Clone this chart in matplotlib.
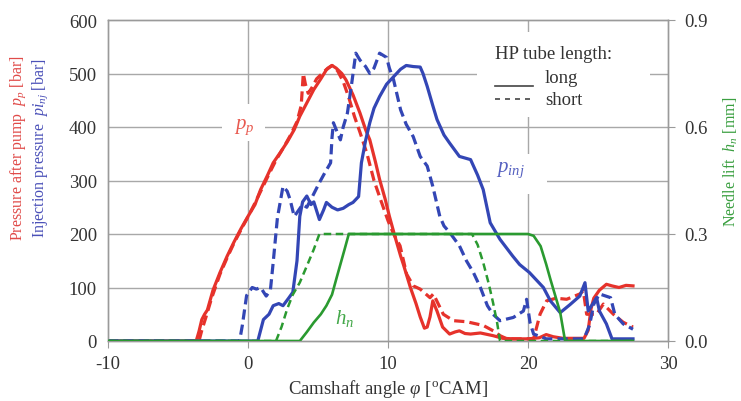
import matplotlib
matplotlib.use("Agg")
import matplotlib.pyplot as plt
from matplotlib.patches import Rectangle
from matplotlib.lines import Line2D

plt.rcParams['font.family'] = ['Liberation Serif', 'DejaVu Serif']
plt.rcParams['mathtext.fontset'] = 'custom'
plt.rcParams['mathtext.rm'] = 'Liberation Serif'
plt.rcParams['mathtext.it'] = 'Liberation Serif:italic'
plt.rcParams['mathtext.bf'] = 'Liberation Serif:bold'
plt.rcParams['axes.unicode_minus'] = False

# ---------------- data ----------------
pp_long_x = [-10, -3.7, -3.5, -3.3, -3.1, -2.9, -2.5, -2.0, -1.5, -1.0, -0.5, 0.0, 0.5, 0.9, 1.4,
             1.8, 2.3, 2.8, 3.3, 3.7, 4.2, 4.7, 5.2, 5.6, 6.0, 6.3, 6.7, 7.0, 7.5, 8.0, 8.4, 8.7,
             9.1, 9.4, 9.8, 10.1, 10.5, 10.9, 11.1, 11.6, 12.0, 12.3, 12.6, 12.8, 13.0, 13.2, 13.5,
             13.9, 14.4, 14.8, 15.1, 15.5, 15.9, 16.6, 17.5, 18.2, 19.0, 20.0, 20.8, 21.3, 21.8,
             22.5, 23.3, 24.0, 24.3, 24.5, 24.7, 25.1, 25.6, 26.0, 26.5, 27.0, 27.5]
pp_long_y = [0, 0, 18, 40, 50, 58, 95, 128, 158, 185, 210, 233, 255, 283, 310,
             333, 352, 372, 395, 420, 445, 470, 490, 507, 515, 510, 500, 488, 460, 426, 395, 376,
             335, 302, 265, 233, 195, 159, 143, 100, 70, 45, 24, 26, 45, 75, 56,
             26, 13, 17, 19, 14, 13, 15, 10, 5, 4, 4, 6, 12, 8,
             5, 5, 5, 20, 60, 80, 95, 106, 103, 100, 104, 103]

pp_short_x = [-10, -3.5, -3.3, -3.0, -2.6, -2.0, -1.5, -1.0, -0.5, 0.0, 0.5, 1.0, 1.5, 2.0, 2.5,
              3.0, 3.5, 3.8, 3.95, 4.1, 4.3, 4.6, 4.9, 5.3, 5.7, 6.0, 6.4, 6.8, 7.2, 7.6, 8.0,
              8.5, 9.0, 9.5, 10.0, 10.4, 10.86, 11.33, 11.81, 12.3, 13.0, 13.24, 13.95, 14.67,
              15.62, 16.81, 17.52, 18.0, 18.5, 20.4, 20.86, 21.33, 22.0, 22.76, 23.71, 23.95,
              24.19, 24.9, 25.38, 26.1, 26.8, 27.5]
pp_short_y = [0, 0, 20, 45, 80, 125, 155, 183, 208, 232, 258, 285, 312, 338, 360,
              383, 410, 440, 500, 480, 463, 475, 490, 500, 510, 515, 505, 485, 455, 420, 390,
              350, 300, 262, 225, 200, 178, 125, 103, 97, 81, 88, 50, 38,
              36, 29, 19, 10, 4, 4, 50, 75, 80, 78, 88, 94,
              50, 50, 69, 50, 35, 26]

pinj_long_x = [-10, 0.7, 0.9, 1.1, 1.5, 1.8, 2.2, 2.5, 2.9, 3.2, 3.5, 3.7, 3.9, 4.2, 4.5, 4.7,
               5.1, 5.4, 5.6, 6.0, 6.4, 6.8, 7.2, 7.5, 7.9, 8.1, 8.4, 8.7, 9.0, 9.4, 9.9, 10.4,
               10.9, 11.3, 11.8, 12.3, 12.5, 12.8, 13.2, 13.5, 14.0, 14.4, 15.1, 15.9, 16.4,
               16.8, 17.3, 18.0, 18.9, 19.4, 20.1, 21.1, 21.6, 22.3, 23.0, 23.7, 24.07, 24.3,
               24.9, 25.1, 25.6, 26.0, 27.5]
pinj_long_y = [0, 0, 20, 40, 50, 66, 70, 66, 80, 91, 150, 233, 260, 271, 255, 260,
               227, 245, 259, 250, 245, 248, 255, 259, 270, 333, 375, 408, 435, 457, 480, 494,
               508, 515, 513, 512, 500, 476, 440, 414, 385, 370, 345, 339, 310,
               283, 221, 190, 159, 143, 128, 100, 75, 53, 68, 84, 109, 56,
               81, 56, 32, 4, 4]

pinj_short_x = [-10, -0.6, -0.4, -0.1, 0.3, 0.6, 0.9, 1.3, 1.6, 1.8, 2.1, 2.5, 2.8, 3.0, 3.3,
                3.5, 3.9, 4.2, 4.6, 5.1, 5.5, 5.9, 6.0, 6.1, 6.3, 6.6, 6.8, 7.1, 7.4, 7.7, 8.0,
                8.4, 8.7, 9.0, 9.4, 9.9, 10.1, 10.4, 10.9, 11.3, 11.8, 12.3, 12.8, 13.2, 13.7,
                14.0, 14.4, 15.1, 15.6, 16.1, 16.6, 17.1, 17.5, 18.0, 18.95, 19.67, 19.9, 20.14,
                20.4, 21.3, 22.0, 23.0, 24.0, 24.4, 24.7, 25.1, 25.9, 26.2, 26.8, 27.5]
pinj_short_y = [0, 0, 30, 85, 100, 97, 100, 84, 95, 147, 230, 289, 280, 265, 233,
                240, 255, 250, 270, 296, 315, 333, 380, 408, 395, 376, 400, 426, 480, 538, 525,
                513, 500, 510, 538, 530, 510, 488, 432, 405, 382, 345, 327, 289, 233,
                215, 203, 178, 150, 128, 100, 66, 50, 38, 44, 56, 78, 35,
                13, 4, 4, 4, 4, 30, 69, 88, 81, 50, 32, 22]

hn_long_x = [-10, 3.7, 4.2, 4.7, 5.2, 5.6, 6.0, 6.3, 6.6, 6.9, 7.2, 20.0, 20.4, 20.9, 21.3,
             21.6, 22.0, 22.3, 22.65, 27.5]
hn_long_y = [0, 0, 0.025, 0.052, 0.075, 0.099, 0.13, 0.173, 0.215, 0.257, 0.3, 0.3, 0.295,
             0.266, 0.215, 0.173, 0.12, 0.08, 0, 0]

hn_short_x = [-10, 2.0, 2.4, 2.8, 3.2, 3.7, 4.2, 4.7, 5.1, 16.0, 16.4, 16.8, 17.2, 17.5, 17.8,
              18.0, 27.5]
hn_short_y = [0, 0, 0.04, 0.09, 0.13, 0.164, 0.21, 0.257, 0.3, 0.3, 0.27, 0.22, 0.16, 0.108,
              0.05, 0, 0]

x_ticks = [-10, 0, 10, 20, 30]
y_ticks = [0, 100, 200, 300, 400, 500, 600]
y2_ticks = [0.0, 0.3, 0.6, 0.9]

# ---------------- style ----------------
RED = '#e6322b'
BLUE = '#3346b5'
GREEN = '#2a9a30'
GRID = '#a8a8a8'
SPINE = '#9a9a9a'
TXT = '#333333'

fig = plt.figure(figsize=(7.41, 4.02), dpi=100)
ax = fig.add_axes([108/741, 1-342/402, 560/741, 321/402])
ax2 = ax.twinx()

lw = 2.3
ax.plot(pp_long_x, pp_long_y, color=RED, lw=lw, zorder=3, solid_joinstyle='round')
ax.plot(pp_short_x, pp_short_y, color=RED, lw=lw, ls=(0, (3.2, 1.6)), zorder=3)
ax.plot(pinj_long_x, pinj_long_y, color=BLUE, lw=lw, zorder=3, solid_joinstyle='round')
ax.plot(pinj_short_x, pinj_short_y, color=BLUE, lw=lw, ls=(0, (3.2, 1.6)), zorder=3)
ax2.plot(hn_long_x, hn_long_y, color=GREEN, lw=1.9, zorder=3)
ax2.plot(hn_short_x, hn_short_y, color=GREEN, lw=1.8, ls=(0, (3.0, 1.8)), zorder=3)

ax.set_xlim(-10, 30)
ax.set_ylim(0, 600)
ax2.set_ylim(0, 0.9)
ax.set_xticks(x_ticks)
ax.set_yticks(y_ticks)
ax2.set_yticks(y2_ticks)
ax2.set_yticklabels([f"{v:.1f}" for v in y2_ticks])

# grid
for yv in y_ticks[1:-1]:
    ax.axhline(yv, color=GRID, lw=1.0, zorder=0.5)
for xv in x_ticks[1:-1]:
    ax.axvline(xv, color=GRID, lw=1.0, zorder=0.5)

for a in (ax, ax2):
    for s in a.spines.values():
        s.set_color(SPINE)
        s.set_linewidth(1.0)

ax.tick_params(axis='x', direction='out', length=5, color=SPINE, labelsize=13.5,
               labelcolor=TXT, pad=5)
ax.tick_params(axis='y', length=0, labelsize=13.5, labelcolor=TXT, pad=8)
ax2.tick_params(axis='y', direction='out', length=5, color=SPINE, labelsize=13.5,
                labelcolor=TXT, pad=7)

# white boxes interrupting the grid
def wbox(x0, y0, x1, y1):
    ax.add_patch(Rectangle((x0, y0), x1 - x0, y1 - y0, transform=ax.transAxes,
                           facecolor='white', edgecolor='none', zorder=1))

wbox(0.2036, 0.623, 0.2804, 0.738)
wbox(0.682, 0.458, 0.784, 0.583)
wbox(0.659, 0.698, 0.968, 0.963)

# inline labels
ax.text(0.243, 0.670, r'$p_p$', transform=ax.transAxes, color='#e85a50', fontsize=15,
        ha='center', va='center', zorder=2)
ax.text(0.718, 0.536, r'$p_{inj}$', transform=ax.transAxes, color='#5560c0', fontsize=15,
        ha='center', va='center', zorder=2)
ax.text(0.423, 0.072, r'$h_n$', transform=ax.transAxes, color='#44a84a', fontsize=15,
        ha='center', va='center', zorder=2)

# legend (drawn manually)
ax.text(0.691, 0.897, 'HP tube length:', transform=ax.transAxes, color=TXT, fontsize=13.5,
        ha='left', va='center', zorder=2)
ax.add_line(Line2D([0.691, 0.759], [0.794, 0.794], transform=ax.transAxes, color='#444444',
                   lw=1.2, zorder=2))
ax.add_line(Line2D([0.691, 0.759], [0.754, 0.754], transform=ax.transAxes, color='#444444',
                   lw=1.2, ls=(0, (3, 3)), zorder=2))
ax.text(0.780, 0.822, 'long', transform=ax.transAxes, color=TXT, fontsize=13.5,
        ha='left', va='center', zorder=2)
ax.text(0.780, 0.751, 'short', transform=ax.transAxes, color=TXT, fontsize=13.5,
        ha='left', va='center', zorder=2)

# axis labels
ax.set_xlabel(r'Camshaft angle $\varphi$ [$^{\mathrm{o}}$CAM]', fontsize=13.5, color=TXT,
              labelpad=4)
fig.text(18/741, 1-148/402, r'Pressure after pump  $p_p$ [bar]', rotation=90, color='#e04a48',
         fontsize=11.5, ha='center', va='center')
fig.text(40/741, 1-148/402, r'Injection pressure  $pi_{nj}$ [bar]', rotation=90, color='#4a50b8',
         fontsize=11.5, ha='center', va='center')
fig.text(731/741, 1-162/402, r'Needle lift  $h_n$ [mm]', rotation=90, color='#3a9f40',
         fontsize=11.5, ha='center', va='center')

fig.savefig('out.png', dpi=100)
